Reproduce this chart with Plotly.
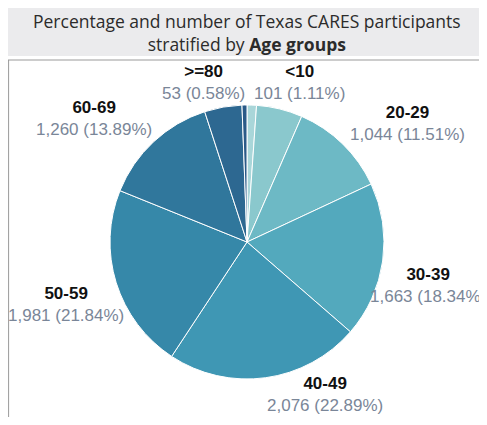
import plotly.graph_objects as go

# age groups, clockwise from 12 o'clock
age_groups = ["<10", "10-19", "20-29", "30-39", "40-49", "50-59", "60-69", "70-79", ">=80"]
participants = [101, 492, 1044, 1663, 2076, 1981, 1260, 400, 53]
pct_labels = ["1.11%", "5.42%", "11.51%", "18.34%", "22.89%", "21.84%", "13.89%", "4.41%", "0.58%"]
show_label = [True, False, True, True, True, True, True, False, True]

colors = ["#a9d6d9", "#8ac8cd", "#6db9c5", "#53a9bd", "#3f97b4", "#3688a9",
          "#30779c", "#2d6891", "#2a5a88"]

# page body has an 8px margin, keep the figure inside the window
W, H = 479, 409

# where each label block sits (pixels from top-left of the figure)
label_pos = {
    "<10": (291, 74), "20-29": (399, 115), "30-39": (420, 277),
    "40-49": (317, 386), "50-59": (58, 296), "60-69": (86, 110), ">=80": (195, 74),
}

fig = go.Figure(go.Pie(
    labels=age_groups,
    values=participants,
    textinfo="none",
    sort=False,
    direction="clockwise",
    rotation=0,
    marker=dict(colors=colors, line=dict(color="white", width=1)),
    domain=dict(x=[102 / W, 376 / W], y=[38 / H, 312 / H]),
    showlegend=False,
    hoverinfo="label+value+percent",
))

for g, n, p, s in zip(age_groups, participants, pct_labels, show_label):
    if not s:
        continue
    px_, py_ = label_pos[g]
    fig.add_annotation(
        xref="paper", yref="paper", x=px_ / W, y=1 - py_ / H,
        text=f"<b>{g}</b><br><span style='color:#7a8698'>{n:,} ({p})</span>",
        showarrow=False, align="center", xanchor="center", yanchor="middle",
        font=dict(family="Liberation Sans, Arial", size=17, color="#111111"),
    )

# title band + chart frame
fig.add_shape(type="rect", xref="paper", yref="paper",
              x0=0, x1=1, y0=1 - 48 / H, y1=1,
              fillcolor="#ebebed", line=dict(width=0), layer="below")
fig.add_shape(type="line", xref="paper", yref="paper",
              x0=0, x1=1, y0=1 - 52 / H, y1=1 - 52 / H,
              line=dict(color="#9a9a9a", width=1))
fig.add_shape(type="line", xref="paper", yref="paper",
              x0=0.6 / W, x1=0.6 / W, y0=0, y1=1 - 52 / H,
              line=dict(color="#9a9a9a", width=1))

fig.add_annotation(
    xref="paper", yref="paper", x=239 / W, y=1 - 24 / H,
    text="Percentage and number of Texas CARES participants<br>stratified by <b>Age groups</b>",
    showarrow=False, align="center", xanchor="center", yanchor="middle",
    font=dict(family="Open Sans", size=17.5, color="#2b2b2b"),
)

fig.update_layout(
    width=W, height=H,
    margin=dict(l=0, r=0, t=0, b=0, autoexpand=False),
    paper_bgcolor="white",
    plot_bgcolor="white",
)

fig.write_html("out.html")
